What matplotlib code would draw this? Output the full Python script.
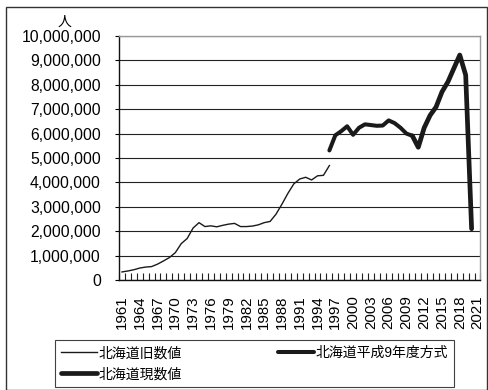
import matplotlib
matplotlib.use("Agg")
import matplotlib.pyplot as plt
from matplotlib.patches import Rectangle
from matplotlib.ticker import FuncFormatter, MultipleLocator

plt.rcParams['font.family'] = ['Liberation Sans', 'Noto Sans CJK JP']

# 年（カテゴリ軸）
years = list(range(1961, 2022))

# 北海道旧数値 1961-1996
old_years = list(range(1961, 1997))
old_vals = [330000, 370000, 420000, 490000, 530000, 550000, 650000, 780000, 920000, 1120000,
            1490000, 1700000, 2130000, 2350000, 2190000, 2220000, 2180000, 2240000, 2290000, 2320000,
            2190000, 2190000, 2210000, 2260000, 2350000, 2400000, 2700000, 3110000, 3550000, 3940000,
            4140000, 4210000, 4100000, 4270000, 4290000, 4690000]

# 北海道平成9年度方式 1996-2010
h9_years = list(range(1996, 2011))
h9_vals = [5310000, 5930000, 6100000, 6300000, 5950000, 6240000, 6380000, 6350000, 6320000,
           6330000, 6540000, 6430000, 6240000, 6000000, 5910000]

# 北海道現数値 2010-2020
cur_years = list(range(2010, 2021))
cur_vals = [5910000, 5440000, 6240000, 6750000, 7090000, 7710000, 8120000, 8670000, 9220000,
            8400000, 2100000]

labels = ["北海道旧数値", "北海道平成9年度方式", "北海道現数値"]

W, H = 489, 390
fig = plt.figure(figsize=(W / 100, H / 100), dpi=100)
ax = fig.add_axes([119 / W, 1 - 280 / H, (480.5 - 119) / W, (280 - 36) / H])

def pos(ys):
    return [years.index(y) for y in ys]

l_old, = ax.plot(pos(old_years), old_vals, color='#1a1a1a', lw=1.0, solid_joinstyle='round')
l_h9, = ax.plot(pos(h9_years), h9_vals, color='#1a1a1a', lw=2.9,
                solid_joinstyle='round', solid_capstyle='round')
l_cur, = ax.plot(pos(cur_years), cur_vals, color='#1a1a1a', lw=3.4,
                 solid_joinstyle='round', solid_capstyle='round')

ax.set_xlim(-0.5, len(years) - 0.5)
ax.set_ylim(0, 10000000)
ax.yaxis.set_major_locator(MultipleLocator(1000000))
ax.yaxis.set_major_formatter(FuncFormatter(lambda v, p: f"{v:,.0f}"))
ax.grid(axis='y', color='#222222', lw=0.8)
ax.set_axisbelow(True)

# 目盛ラベルは3年ごと、目盛線はカテゴリの境界
ax.set_xticks(range(0, len(years), 3))
ax.set_xticklabels([str(y) for y in years[::3]], rotation=90)
ax.set_xticks([i - 0.5 for i in range(len(years) + 1)], minor=True)
ax.tick_params(axis='x', which='major', length=0, pad=11, labelsize=10.8)
ax.tick_params(axis='x', which='minor', direction='in', length=5, width=0.8, color='#222222')
ax.tick_params(axis='y', which='major', direction='out', length=3, width=0.8, pad=10, labelsize=11.3)

for side in ['left', 'bottom']:
    ax.spines[side].set_color('#111111')
    ax.spines[side].set_linewidth(1.0)
for side in ['top', 'right']:
    ax.spines[side].set_color('#999999')
    ax.spines[side].set_linewidth(1.0)

fig.text(65 / W, 1 - 22 / H, "人", ha='center', va='center', fontsize=10)

leg = fig.legend([l_old, l_cur, l_h9], [labels[0], labels[2], labels[1]],
                 ncol=2, loc='upper left', bbox_to_anchor=(55 / W, 1 - 340 / H),
                 frameon=True, fancybox=False, shadow=False, fontsize=10,
                 handlelength=2.6, handletextpad=0.1, columnspacing=6.9,
                 labelspacing=0.5, borderpad=0.45, borderaxespad=0)
leg.get_frame().set_edgecolor('#111111')
leg.get_frame().set_linewidth(0.8)

fig.patches.append(Rectangle((6 / W, 0), (487 - 6) / W, 1 - 7 / H, transform=fig.transFigure,
                             fill=False, edgecolor='#333333', lw=1.0))

fig.savefig("out.png", dpi=100)
